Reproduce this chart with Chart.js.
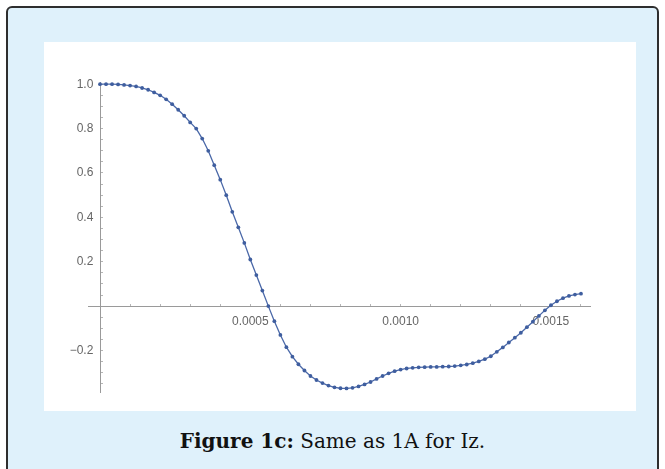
<!DOCTYPE html>
<html>
<head>
<meta charset="utf-8">
<script src="https://cdn.jsdelivr.net/npm/chart.js@4.4.1/dist/chart.umd.min.js"></script>
<style>
  html, body { margin: 0; padding: 0; background: #ffffff; }
  body { width: 665px; height: 469px; position: relative; overflow: hidden; }
  .panel {
    position: absolute; left: 6px; top: 6px; width: 649px; height: 520px;
    background: #dff1fb; border: 2px solid #2e2e2e; border-radius: 6px;
  }
  .plot {
    position: absolute; left: 44px; top: 42px; width: 592px; height: 369px;
    background: #ffffff;
  }
  .caption {
    position: absolute; left: 0; top: 426px; width: 665px; text-align: center;
    font-family: "DejaVu Serif", "Liberation Serif", serif; font-size: 20px;
    line-height: 30px; color: #111;
  }
</style>
</head>
<body>
<div class="panel"></div>
<div class="plot"><canvas id="iz-chart" width="592" height="369"></canvas></div>
<div class="caption"><b>Figure 1c:</b> Same as 1A for Iz.</div>
<script>
  // time (s) and Iz values
  const timeValues = [
    0, 0.00002, 0.00004, 0.00006, 0.00008, 0.00010, 0.00012, 0.00014, 0.00016, 0.00018,
    0.00020, 0.00022, 0.00024, 0.00026, 0.00028, 0.00030, 0.00032, 0.00034, 0.00036, 0.00038,
    0.00040, 0.00042, 0.00044, 0.00046, 0.00048, 0.00050, 0.00052, 0.00054, 0.00056, 0.00058,
    0.00060, 0.00062, 0.00064, 0.00066, 0.00068, 0.00070, 0.00072, 0.00074, 0.00076, 0.00078,
    0.00080, 0.00082, 0.00084, 0.00086, 0.00088, 0.00090, 0.00092, 0.00094, 0.00096, 0.00098,
    0.00100, 0.00102, 0.00104, 0.00106, 0.00108, 0.00110, 0.00112, 0.00114, 0.00116, 0.00118,
    0.00120, 0.00122, 0.00124, 0.00126, 0.00128, 0.00130, 0.00132, 0.00134, 0.00136, 0.00138,
    0.00140, 0.00142, 0.00144, 0.00146, 0.00148, 0.00150, 0.00152, 0.00154, 0.00156, 0.00158,
    0.00160
  ];
  const izValues = [
    1.0, 1.0, 1.0, 0.999, 0.997, 0.994, 0.99, 0.983, 0.975, 0.963,
    0.95, 0.932, 0.91, 0.885, 0.858, 0.828, 0.80, 0.755, 0.70, 0.635,
    0.57, 0.50, 0.425, 0.355, 0.285, 0.21, 0.14, 0.07, 0.0, -0.068,
    -0.13, -0.185, -0.228, -0.262, -0.29, -0.315, -0.333, -0.347, -0.358, -0.366,
    -0.37, -0.371, -0.368, -0.362, -0.353, -0.342, -0.328, -0.315, -0.303, -0.293,
    -0.286, -0.281, -0.278, -0.276, -0.275, -0.274, -0.274, -0.273, -0.272, -0.27,
    -0.267, -0.263, -0.257, -0.249, -0.239, -0.226, -0.206, -0.186, -0.164, -0.142,
    -0.12, -0.095, -0.07, -0.044, -0.019, 0.004, 0.022, 0.036, 0.046, 0.052,
    0.056
  ];

  const xLabelTicks = [0.0005, 0.0010, 0.0015];
  const xLabelText = ['0.0005', '0.0010', '0.0015'];
  const yLabelTicks = [1.0, 0.8, 0.6, 0.4, 0.2, -0.2];
  const yLabelText = ['1.0', '0.8', '0.6', '0.4', '0.2', '\u22120.2'];

  function labelFor(value, ticks, texts, eps) {
    const i = ticks.findIndex((t) => Math.abs(t - value) < eps);
    return i >= 0 ? texts[i] : '';
  }

  const tickFont = { family: '"Liberation Sans", Arial, sans-serif', size: 12 };
  const axisGray = '#9a9a9a';

  new Chart(document.getElementById('iz-chart'), {
    type: 'line',
    data: {
      datasets: [{
        data: timeValues.map((t, i) => ({ x: t, y: izValues[i] })),
        borderColor: '#4a68a8',
        borderWidth: 1.3,
        pointRadius: 1.9,
        pointBackgroundColor: '#3f5e9f',
        pointBorderWidth: 0,
        tension: 0
      }]
    },
    options: {
      responsive: false,
      animation: false,
      layout: { padding: { left: 44, top: 40, right: 46, bottom: 19 } },
      plugins: { legend: { display: false }, tooltip: { enabled: false } },
      scales: {
        x: {
          type: 'linear',
          position: { y: 0 },
          min: -0.00004,
          max: 0.00163,
          border: { display: true, color: axisGray, width: 1 },
          grid: { drawOnChartArea: false, drawTicks: true, tickLength: -3, tickColor: '#b5b5b5' },
          ticks: {
            stepSize: 0.0001,
            maxTicksLimit: 100,
            includeBounds: false,
            autoSkip: false,
            maxRotation: 0,
            minRotation: 0,
            padding: 11,
            color: '#666',
            font: tickFont,
            callback: (v) => labelFor(v, xLabelTicks, xLabelText, 1e-8)
          }
        },
        y: {
          type: 'linear',
          position: { x: 0 },
          min: -0.387,
          max: 1.01,
          border: { display: true, color: axisGray, width: 1 },
          grid: { drawOnChartArea: false, drawTicks: true, tickLength: -3, tickColor: '#b5b5b5' },
          ticks: {
            stepSize: 0.05,
            maxTicksLimit: 100,
            includeBounds: false,
            autoSkip: false,
            color: '#666',
            font: tickFont,
            // labels sit flush on an axis placed by value, so pad them with spaces
            callback: (v) => {
              const s = labelFor(v, yLabelTicks, yLabelText, 1e-6);
              return s ? s + '  ' : '';
            }
          }
        }
      }
    }
  });
</script>
</body>
</html>
